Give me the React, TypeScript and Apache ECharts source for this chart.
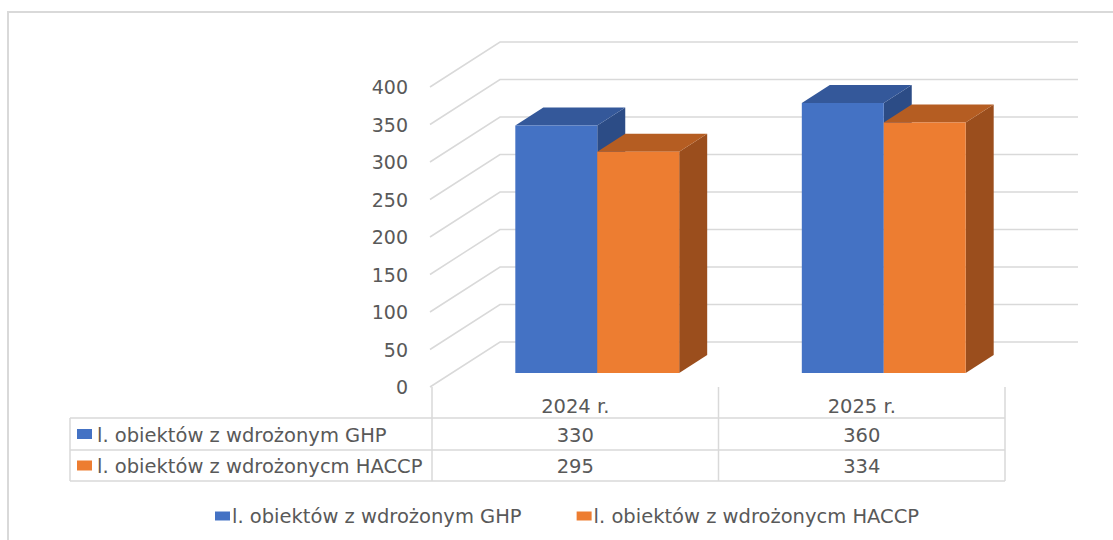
import React, { useEffect, useRef } from "react";
import * as echarts from "echarts";

const categories = ["2024 r.", "2025 r."];
const seriesNames = ["l. obiektów z wdrożonym GHP", "l. obiektów z wdrożonycm HACCP"];
const ghpValues = [330, 360];
const haccpValues = [295, 334];
const yTicks = [0, 50, 100, 150, 200, 250, 300, 350, 400];

const FONT = "DejaVu Sans";
const TEXT = "#595959";
const LINE = "#D9D9D9";
const PALETTE = [
  { front: "#4472C4", top: "#34589A", side: "#2C4C86" },
  { front: "#ED7D31", top: "#B55D22", side: "#9B4E1D" },
];

const GRID_LEFT = 432;
const GRID_TOP = 87;
const GRID_W = 573;
const GRID_H = 300;
const BACK_DX = 70;
const BACK_DY = -45;
const BAR_DX = 22;
const BAR_DY = -14;
const DEPTH_DX = 28;
const DEPTH_DY = -18;
const BAR_FRAC = 0.286;
const FS = 19.5;

function barRenderer(seriesIdx: number) {
  return (params: any, api: any) => {
    const cat = api.value(0);
    const val = api.value(1);
    const base = api.coord([cat, 0]);
    const top = api.coord([cat, val]);
    const band = api.size([1, 0])[0];
    const w = band * BAR_FRAC;
    const x0 = (seriesIdx === 0 ? base[0] - w : base[0]) + BAR_DX;
    const ty = top[1] + BAR_DY;
    const by = base[1] + BAR_DY;
    const c = PALETTE[seriesIdx];
    return {
      type: "group",
      children: [
        {
          type: "polygon",
          shape: {
            points: [
              [x0 + w, ty],
              [x0 + w + DEPTH_DX, ty + DEPTH_DY],
              [x0 + w + DEPTH_DX, by + DEPTH_DY],
              [x0 + w, by],
            ],
          },
          style: { fill: c.side },
        },
        {
          type: "polygon",
          shape: {
            points: [
              [x0, ty],
              [x0 + w, ty],
              [x0 + w + DEPTH_DX, ty + DEPTH_DY],
              [x0 + DEPTH_DX, ty + DEPTH_DY],
            ],
          },
          style: { fill: c.top },
        },
        {
          type: "rect",
          shape: { x: x0, y: ty, width: w, height: by - ty },
          style: { fill: c.front },
        },
      ],
    };
  };
}

function gridRenderer(params: any, api: any) {
  const cs = params.coordSys;
  const v = api.value(1);
  const y = api.coord([0, v])[1];
  const xl = cs.x - 2;
  return {
    type: "polyline",
    shape: {
      points: [
        [xl, y],
        [cs.x + BACK_DX - 2, y + BACK_DY],
        [cs.x + cs.width + BACK_DX + 3, y + BACK_DY],
      ],
    },
    style: { stroke: LINE, lineWidth: 1.5, fill: "none" },
  };
}

function buildTable() {
  const colW = GRID_W / categories.length;
  const tableLeft = 70;
  const tableRight = GRID_LEFT + GRID_W;
  const floorY = GRID_TOP + GRID_H;
  const rowYs = [418, 450, 481];
  const els: any[] = [];
  const ls = { stroke: LINE, lineWidth: 1.5 };
  rowYs.forEach((y) =>
    els.push({ type: "line", shape: { x1: tableLeft, y1: y, x2: tableRight, y2: y }, style: ls, silent: true })
  );
  els.push({ type: "line", shape: { x1: tableLeft, y1: rowYs[0], x2: tableLeft, y2: rowYs[2] }, style: ls });
  for (let i = 0; i <= categories.length; i++) {
    const x = GRID_LEFT + i * colW;
    els.push({ type: "line", shape: { x1: x, y1: floorY, x2: x, y2: rowYs[2] }, style: ls });
  }
  categories.forEach((c, i) => {
    els.push({
      type: "text",
      x: GRID_LEFT + (i + 0.5) * colW,
      y: (floorY + rowYs[0]) / 2 + 4,
      style: { text: c, fill: TEXT, font: `${FS}px '${FONT}'`, align: "center", verticalAlign: "middle" },
    });
  });
  const rows = [ghpValues, haccpValues];
  rows.forEach((vals, r) => {
    const cy = (rowYs[r] + rowYs[r + 1]) / 2;
    els.push({
      type: "rect",
      shape: { x: 77, y: cy - 5, width: 15, height: 10 },
      style: { fill: PALETTE[r].front },
    });
    els.push({
      type: "text",
      x: 97,
      y: cy + 1,
      style: { text: seriesNames[r], fill: TEXT, font: `${FS}px '${FONT}'`, align: "left", verticalAlign: "middle" },
    });
    vals.forEach((v, i) => {
      els.push({
        type: "text",
        x: GRID_LEFT + (i + 0.5) * colW,
        y: cy + 1,
        style: { text: String(v), fill: TEXT, font: `${FS}px '${FONT}'`, align: "center", verticalAlign: "middle" },
      });
    });
  });
  return els;
}

export default function App() {
  const ref = useRef<HTMLDivElement>(null);
  useEffect(() => {
    document.body.style.margin = "0";
    const chart = echarts.init(ref.current!, null, { renderer: "svg" });
    chart.setOption({
      animation: false,
      backgroundColor: "#ffffff",
      textStyle: { fontFamily: FONT },
      grid: { left: GRID_LEFT, top: GRID_TOP, width: GRID_W, height: GRID_H, containLabel: false },
      xAxis: {
        type: "category",
        data: categories,
        axisLine: { show: false },
        axisTick: { show: false },
        axisLabel: { show: false },
        splitLine: { show: false },
      },
      yAxis: {
        type: "value",
        min: 0,
        max: 400,
        interval: 50,
        axisLine: { show: false },
        axisTick: { show: false },
        splitLine: { show: false },
        axisLabel: { color: TEXT, fontSize: 19, fontFamily: FONT, margin: 24 },
      },
      legend: {
        data: seriesNames.map((n, i) => ({ name: n, itemStyle: { color: PALETTE[i].front } })),
        top: 506,
        left: 215,
        icon: "rect",
        itemWidth: 15,
        itemHeight: 9,
        itemGap: 55,
        padding: 0,
        textStyle: { color: TEXT, fontSize: FS, fontFamily: FONT, padding: [0, 0, 0, -3] },
        selectedMode: false,
      },
      graphic: [
        {
          type: "rect",
          shape: { x: 8, y: 12, width: 1300, height: 700 },
          style: { fill: "none", stroke: LINE, lineWidth: 2 },
          silent: true,
          z: -10,
        },
        ...buildTable(),
      ],
      series: [
        {
          type: "custom",
          name: "grid",
          renderItem: gridRenderer,
          data: yTicks.map((v) => [0, v]),
          z: 0,
          silent: true,
          legendHoverLink: false,
        },
        {
          type: "custom",
          name: seriesNames[0],
          renderItem: barRenderer(0),
          itemStyle: { color: PALETTE[0].front },
          data: ghpValues.map((v, i) => [i, v]),
          z: 2,
        },
        {
          type: "custom",
          name: seriesNames[1],
          renderItem: barRenderer(1),
          itemStyle: { color: PALETTE[1].front },
          data: haccpValues.map((v, i) => [i, v]),
          z: 3,
        },
      ],
    });
    return () => chart.dispose();
  }, []);
  return <div ref={ref} style={{ width: 1113, height: 540 }} />;
}
